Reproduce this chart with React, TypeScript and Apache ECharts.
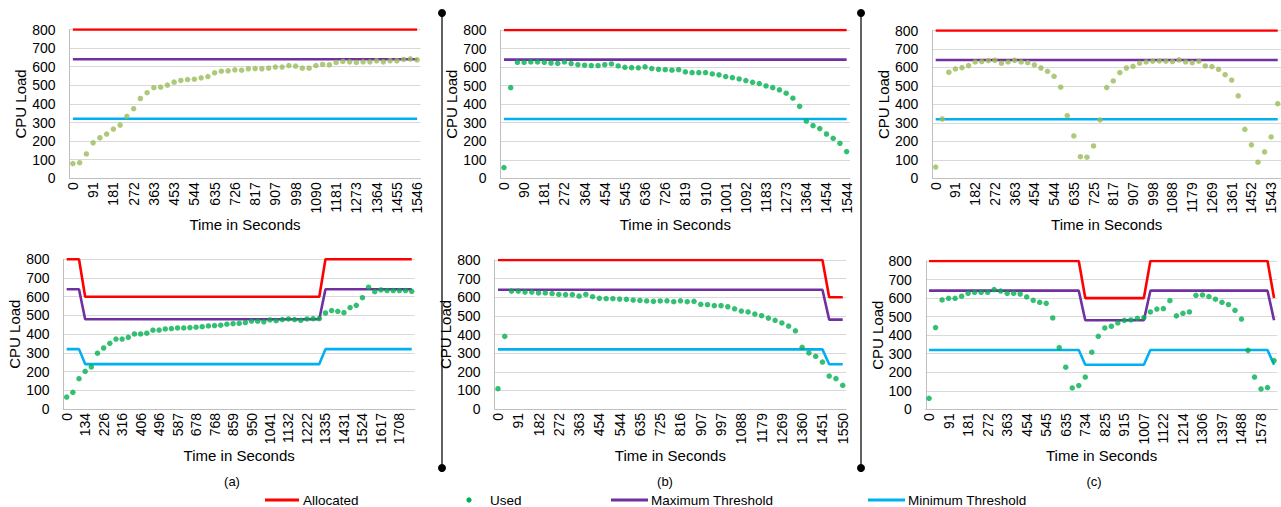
import React, { useEffect, useRef } from 'react';
import * as echarts from 'echarts';

const FONT = '"Liberation Sans", Arial, Helvetica, sans-serif';
const RED = '#FF0000';
const PURPLE = '#7030A0';
const BLUE = '#00B0F0';
const OLIVE = '#9BBB59';
const GREEN = '#00B050';

// ---------- tick labels (shown every 3rd category) ----------
const ticksA1 = ['0', '91', '181', '272', '363', '453', '544', '635', '726', '817', '907', '998', '1090', '1181', '1273', '1364', '1455', '1546'];
const ticksA2 = ['0', '134', '226', '316', '406', '496', '587', '678', '768', '859', '950', '1041', '1132', '1222', '1335', '1431', '1524', '1617', '1708'];
const ticksB1 = ['0', '90', '181', '272', '364', '454', '545', '636', '726', '819', '910', '1001', '1092', '1183', '1273', '1364', '1454', '1544'];
const ticksB2 = ['0', '91', '182', '272', '363', '454', '544', '635', '725', '816', '907', '997', '1088', '1179', '1269', '1360', '1451', '1550'];
const ticksC1 = ['0', '91', '182', '272', '363', '454', '544', '635', '725', '817', '907', '998', '1088', '1179', '1269', '1361', '1452', '1543'];
const ticksC2 = ['0', '91', '181', '272', '363', '454', '545', '635', '734', '825', '915', '1007', '1122', '1214', '1306', '1397', '1488', '1578'];

// ---------- Used CPU load ----------
const usedA1 = [79, 84, 131, 191, 218, 238, 265, 286, 333, 374, 429, 460, 487, 490, 501, 517, 526, 531, 533, 540, 547, 567, 576, 578, 583, 581, 589, 590, 589, 592, 598, 598, 606, 603, 592, 592, 606, 612, 610, 623, 628, 626, 623, 626, 626, 632, 626, 632, 632, 639, 642, 637];
const usedA2 = [64, 89, 162, 201, 225, 298, 326, 351, 374, 374, 383, 401, 401, 405, 421, 422, 428, 430, 433, 433, 435, 437, 440, 444, 446, 448, 453, 456, 458, 462, 470, 469, 466, 476, 472, 478, 481, 478, 474, 481, 483, 483, 513, 526, 522, 515, 542, 554, 595, 651, 627, 636, 633, 633, 633, 633, 629];
const usedB1 = [58, 489, 626, 626, 628, 628, 626, 622, 620, 628, 619, 613, 610, 608, 608, 613, 617, 606, 599, 597, 596, 601, 592, 588, 586, 583, 586, 574, 570, 570, 570, 563, 558, 549, 543, 536, 527, 518, 511, 498, 489, 477, 459, 432, 388, 309, 284, 268, 239, 216, 189, 144];
const usedB2 = [109, 390, 633, 633, 628, 628, 623, 623, 620, 615, 614, 614, 606, 615, 603, 594, 592, 592, 590, 589, 585, 583, 580, 578, 580, 581, 576, 581, 576, 578, 562, 560, 555, 555, 549, 538, 526, 521, 510, 501, 488, 476, 462, 445, 420, 331, 301, 283, 252, 177, 163, 127];
const usedC1 = [61, 321, 574, 592, 599, 610, 630, 632, 637, 639, 623, 630, 639, 630, 626, 614, 597, 579, 552, 493, 339, 229, 117, 114, 175, 316, 491, 527, 572, 597, 606, 623, 630, 634, 635, 634, 632, 641, 630, 626, 634, 608, 605, 590, 561, 532, 446, 265, 181, 87, 143, 224, 404];
const usedC2 = [59, 441, 590, 599, 599, 610, 626, 631, 631, 631, 646, 638, 626, 626, 622, 606, 588, 577, 572, 493, 333, 227, 115, 128, 174, 308, 394, 439, 448, 466, 480, 482, 491, 495, 525, 541, 543, 586, 504, 518, 525, 615, 617, 608, 594, 577, 565, 534, 487, 318, 174, 110, 117, 263];

// ---------- step levels as [value, count] runs ----------
const allocA1: [number, number][] = [[800, 52]];
const maxA1: [number, number][] = [[640, 52]];
const minA1: [number, number][] = [[320, 52]];
const allocA2: [number, number][] = [[800, 3], [600, 39], [800, 15]];
const maxA2: [number, number][] = [[640, 3], [480, 39], [640, 15]];
const minA2: [number, number][] = [[320, 3], [240, 39], [320, 15]];
const allocB1: [number, number][] = [[800, 52]];
const maxB1: [number, number][] = [[640, 52]];
const minB1: [number, number][] = [[320, 52]];
const allocB2: [number, number][] = [[800, 49], [600, 3]];
const maxB2: [number, number][] = [[640, 49], [480, 3]];
const minB2: [number, number][] = [[320, 49], [240, 3]];
const allocC1: [number, number][] = [[800, 53]];
const maxC1: [number, number][] = [[640, 53]];
const minC1: [number, number][] = [[320, 53]];
const allocC2: [number, number][] = [[800, 24], [600, 10], [800, 19], [600, 1]];
const maxC2: [number, number][] = [[640, 24], [480, 10], [640, 19], [480, 1]];
const minC2: [number, number][] = [[320, 24], [240, 10], [320, 19], [240, 1]];

function expand(runs: [number, number][]): number[] {
  const out: number[] = [];
  runs.forEach(([v, n]) => {
    for (let i = 0; i < n; i++) out.push(v);
  });
  return out;
}

function categories(ticks: string[], n: number): string[] {
  const out: string[] = [];
  for (let i = 0; i < n; i++) out.push(i % 3 === 0 && i / 3 < ticks.length ? ticks[i / 3] : '');
  return out;
}

const panels = [
  { grid: { left: 69.5, top: 29.5, width: 351, height: 148.8 }, ticks: ticksA1, used: usedA1, usedColor: OLIVE, alloc: allocA1, max: maxA1, min: minA1 },
  { grid: { left: 63.6, top: 259.3, width: 351.2, height: 149.7 }, ticks: ticksA2, used: usedA2, usedColor: GREEN, alloc: allocA2, max: maxA2, min: minA2 },
  { grid: { left: 500.6, top: 30, width: 349.4, height: 148.3 }, ticks: ticksB1, used: usedB1, usedColor: GREEN, alloc: allocB1, max: maxB1, min: minB1 },
  { grid: { left: 494.6, top: 260, width: 351.5, height: 149 }, ticks: ticksB2, used: usedB2, usedColor: GREEN, alloc: allocB2, max: maxB2, min: minB2 },
  { grid: { left: 932.4, top: 30.5, width: 349.9, height: 147.8 }, ticks: ticksC1, used: usedC1, usedColor: OLIVE, alloc: allocC1, max: maxC1, min: minC1 },
  { grid: { left: 925.8, top: 261, width: 351.5, height: 148.3 }, ticks: ticksC2, used: usedC2, usedColor: GREEN, alloc: allocC2, max: maxC2, min: minC2 },
];

const subLabels = [
  { text: '(a)', x: 232 },
  { text: '(b)', x: 665 },
  { text: '(c)', x: 1094 },
];
const separatorsX = [442, 861];

function buildOption() {
  const grid = panels.map((p) => ({ ...p.grid, containLabel: false }));
  const xAxis = panels.map((p, i) => ({
    type: 'category',
    gridIndex: i,
    data: categories(p.ticks, p.used.length),
    boundaryGap: true,
    axisTick: { show: false },
    axisLine: { show: true, lineStyle: { color: '#BFBFBF', width: 1 } },
    axisLabel: { interval: 2, rotate: 90, fontSize: 14, color: '#000', fontFamily: FONT, margin: 4 },
    splitLine: { show: false },
    name: 'Time in Seconds',
    nameLocation: 'middle',
    nameGap: 39,
    nameTextStyle: { fontSize: 15, color: '#000', fontFamily: FONT },
  }));
  const yAxis = panels.map((p, i) => ({
    type: 'value',
    gridIndex: i,
    min: 0,
    max: 800,
    interval: 100,
    axisLine: { show: true, lineStyle: { color: '#BFBFBF', width: 1 } },
    axisTick: { show: false },
    axisLabel: { fontSize: 14, color: '#000', fontFamily: FONT, margin: 14 },
    splitLine: { show: true, lineStyle: { color: '#D9D9D9', width: 1 } },
    name: 'CPU Load',
    nameLocation: 'middle',
    nameGap: 41,
    nameTextStyle: { fontSize: 15, color: '#000', fontFamily: FONT },
  }));
  const series: any[] = [];
  panels.forEach((p, i) => {
    const lines: [string, [number, number][], string][] = [
      ['Allocated', p.alloc, RED],
      ['Maximum Threshold', p.max, PURPLE],
      ['Minimum Threshold', p.min, BLUE],
    ];
    lines.forEach(([name, runs, color]) => {
      series.push({
        type: 'line',
        name,
        xAxisIndex: i,
        yAxisIndex: i,
        data: expand(runs),
        symbol: 'none',
        lineStyle: { color, width: 2.6 },
        itemStyle: { color },
        silent: true,
        z: 2,
      });
    });
    series.push({
      type: 'scatter',
      name: 'Used',
      xAxisIndex: i,
      yAxisIndex: i,
      data: p.used,
      symbol: 'circle',
      symbolSize: 5.5,
      itemStyle: { color: p.usedColor },
      silent: true,
      z: 3,
    });
  });

  const graphic: any[] = [];
  separatorsX.forEach((x) => {
    graphic.push({ type: 'line', shape: { x1: x, y1: 13, x2: x, y2: 468 }, style: { stroke: '#3A3A3A', lineWidth: 1.6 } });
    graphic.push({ type: 'circle', shape: { cx: x, cy: 13, r: 4 }, style: { fill: '#000' } });
    graphic.push({ type: 'circle', shape: { cx: x, cy: 468, r: 4 }, style: { fill: '#000' } });
  });
  subLabels.forEach((s) => {
    graphic.push({
      type: 'text',
      x: s.x,
      y: 481,
      style: { text: s.text, fontSize: 13, fontFamily: FONT, fill: '#000', align: 'center', verticalAlign: 'middle' },
    });
  });
  const ly = 500;
  const legendItems = [
    { kind: 'line', x1: 265, x2: 299, color: RED, text: 'Allocated', tx: 303 },
    { kind: 'dot', x1: 469, x2: 469, color: GREEN, text: 'Used', tx: 490 },
    { kind: 'line', x1: 611, x2: 648, color: PURPLE, text: 'Maximum Threshold', tx: 651 },
    { kind: 'line', x1: 868, x2: 905, color: BLUE, text: 'Minimum Threshold', tx: 908 },
  ];
  legendItems.forEach((it) => {
    if (it.kind === 'line') {
      graphic.push({ type: 'line', shape: { x1: it.x1, y1: ly, x2: it.x2, y2: ly }, style: { stroke: it.color, lineWidth: 3 } });
    } else {
      graphic.push({ type: 'circle', shape: { cx: it.x1, cy: ly, r: 2.6 }, style: { fill: it.color } });
    }
    graphic.push({
      type: 'text',
      x: it.tx,
      y: ly,
      style: { text: it.text, fontSize: 13.5, fontFamily: FONT, fill: '#000', align: 'left', verticalAlign: 'middle' },
    });
  });

  return {
    animation: false,
    backgroundColor: '#ffffff',
    textStyle: { fontFamily: FONT },
    grid,
    xAxis,
    yAxis,
    series,
    graphic,
  };
}

export default function App() {
  const ref = useRef<HTMLDivElement>(null);
  useEffect(() => {
    if (!ref.current) return;
    const chart = echarts.init(ref.current, undefined, { renderer: 'svg' });
    chart.setOption(buildOption() as any);
    return () => {
      chart.dispose();
    };
  }, []);
  return (
    <div
      ref={ref}
      style={{ position: 'fixed', left: 0, top: 0, width: 1281, height: 507, background: '#fff' }}
    />
  );
}
